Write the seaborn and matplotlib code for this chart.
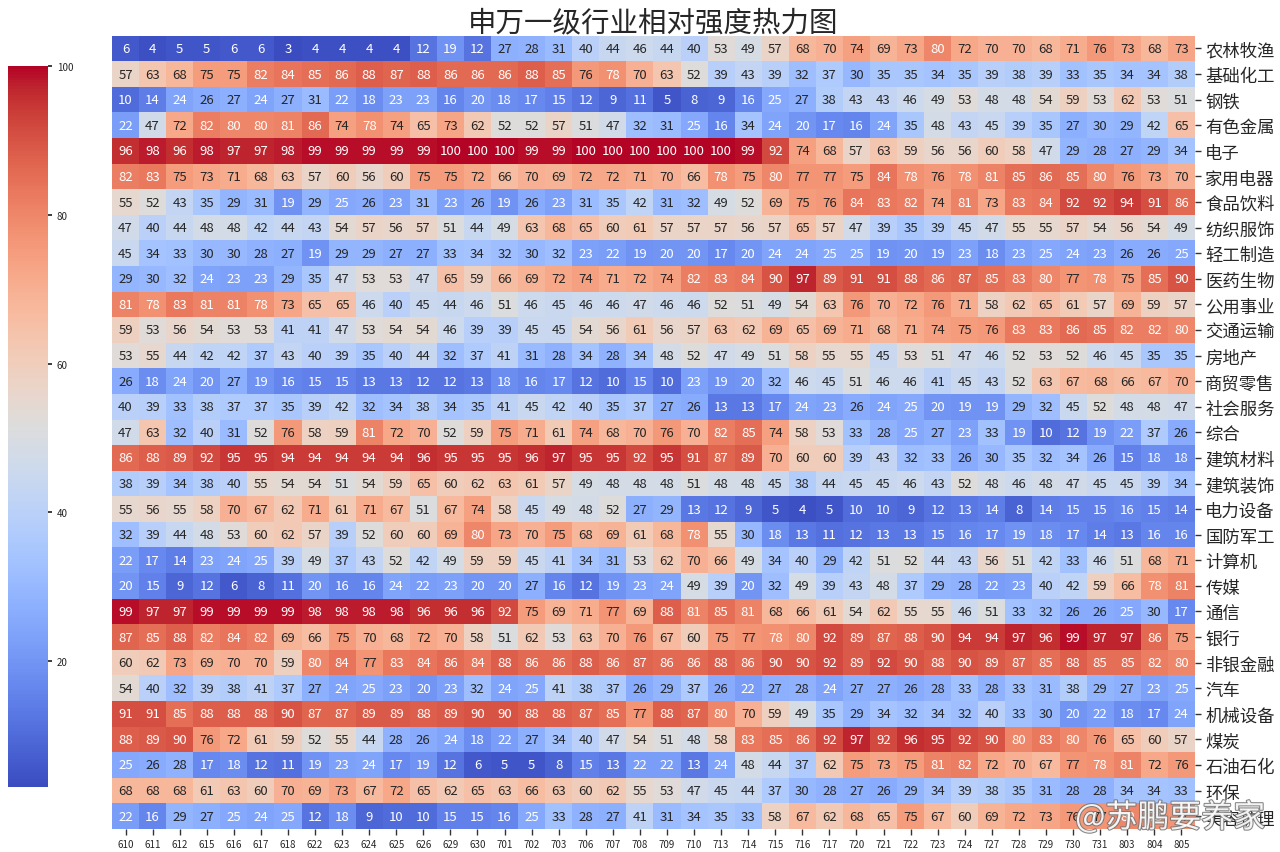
import numpy as np
import pandas as pd
import seaborn as sns
import matplotlib.pyplot as plt
import matplotlib.patheffects as pe

sns.set_theme(style='white')
plt.rcParams['font.family'] = ['Noto Sans CJK SC', 'DejaVu Sans']

dates = ['610', '611', '612', '615', '616', '617', '618', '622', '623', '624',
         '625', '626', '629', '630', '701', '702', '703', '706', '707', '708',
         '709', '710', '713', '714', '715', '716', '717', '720', '721', '722',
         '723', '724', '727', '728', '729', '730', '731', '803', '804', '805']

industries = ['农林牧渔', '基础化工', '钢铁', '有色金属', '电子', '家用电器', '食品饮料',
              '纺织服饰', '轻工制造', '医药生物', '公用事业', '交通运输', '房地产',
              '商贸零售', '社会服务', '综合', '建筑材料', '建筑装饰', '电力设备',
              '国防军工', '计算机', '传媒', '通信', '银行', '非银金融', '汽车',
              '机械设备', '煤炭', '石油石化', '环保', '美容护理']

strength = [
    [6, 4, 5, 5, 6, 6, 3, 4, 4, 4, 4, 12, 19, 12, 27, 28, 31, 40, 44, 46, 44, 40, 53, 49, 57, 68, 70, 74, 69, 73, 80, 72, 70, 70, 68, 71, 76, 73, 68, 73],
    [57, 63, 68, 75, 75, 82, 84, 85, 86, 88, 87, 88, 86, 86, 86, 88, 85, 76, 78, 70, 63, 52, 39, 43, 39, 32, 37, 30, 35, 35, 34, 35, 39, 38, 39, 33, 35, 34, 34, 38],
    [10, 14, 24, 26, 27, 24, 27, 31, 22, 18, 23, 23, 16, 20, 18, 17, 15, 12, 9, 11, 5, 8, 9, 16, 25, 27, 38, 43, 43, 46, 49, 53, 48, 48, 54, 59, 53, 62, 53, 51],
    [22, 47, 72, 82, 80, 80, 81, 86, 74, 78, 74, 65, 73, 62, 52, 52, 57, 51, 47, 32, 31, 25, 16, 34, 24, 20, 17, 16, 24, 35, 48, 43, 45, 39, 35, 27, 30, 29, 42, 65],
    [96, 98, 96, 98, 97, 97, 98, 99, 99, 99, 99, 99, 100, 100, 100, 99, 99, 100, 100, 100, 100, 100, 100, 99, 92, 74, 68, 57, 63, 59, 56, 56, 60, 58, 47, 29, 28, 27, 29, 34],
    [82, 83, 75, 73, 71, 68, 63, 57, 60, 56, 60, 75, 75, 72, 66, 70, 69, 72, 72, 71, 70, 66, 78, 75, 80, 77, 77, 75, 84, 78, 76, 78, 81, 85, 86, 85, 80, 76, 73, 70],
    [55, 52, 43, 35, 29, 31, 19, 29, 25, 26, 23, 31, 23, 26, 19, 26, 23, 31, 35, 42, 31, 32, 49, 52, 69, 75, 76, 84, 83, 82, 74, 81, 73, 83, 84, 92, 92, 94, 91, 86],
    [47, 40, 44, 48, 48, 42, 44, 43, 54, 57, 56, 57, 51, 44, 49, 63, 68, 65, 60, 61, 57, 57, 57, 56, 57, 65, 57, 47, 39, 35, 39, 45, 47, 55, 55, 57, 54, 56, 54, 49],
    [45, 34, 33, 30, 30, 28, 27, 19, 29, 29, 27, 27, 33, 34, 32, 30, 32, 23, 22, 19, 20, 20, 17, 20, 24, 24, 25, 25, 19, 20, 19, 23, 18, 23, 25, 24, 23, 26, 26, 25],
    [29, 30, 32, 24, 23, 23, 29, 35, 47, 53, 53, 47, 65, 59, 66, 69, 72, 74, 71, 72, 74, 82, 83, 84, 90, 97, 89, 91, 91, 88, 86, 87, 85, 83, 80, 77, 78, 75, 85, 90],
    [81, 78, 83, 81, 81, 78, 73, 65, 65, 46, 40, 45, 44, 46, 51, 46, 45, 46, 46, 47, 46, 46, 52, 51, 49, 54, 63, 76, 70, 72, 76, 71, 58, 62, 65, 61, 57, 69, 59, 57],
    [59, 53, 56, 54, 53, 53, 41, 41, 47, 53, 54, 54, 46, 39, 39, 45, 45, 54, 56, 61, 56, 57, 63, 62, 69, 65, 69, 71, 68, 71, 74, 75, 76, 83, 83, 86, 85, 82, 82, 80],
    [53, 55, 44, 42, 42, 37, 43, 40, 39, 35, 40, 44, 32, 37, 41, 31, 28, 34, 28, 34, 48, 52, 47, 49, 51, 58, 55, 55, 45, 53, 51, 47, 46, 52, 53, 52, 46, 45, 35, 35],
    [26, 18, 24, 20, 27, 19, 16, 15, 15, 13, 13, 12, 12, 13, 18, 16, 17, 12, 10, 15, 10, 23, 19, 20, 32, 46, 45, 51, 46, 46, 41, 45, 43, 52, 63, 67, 68, 66, 67, 70],
    [40, 39, 33, 38, 37, 37, 35, 39, 42, 32, 34, 38, 34, 35, 41, 45, 42, 40, 35, 37, 27, 26, 13, 13, 17, 24, 23, 26, 24, 25, 20, 19, 19, 29, 32, 45, 52, 48, 48, 47],
    [47, 63, 32, 40, 31, 52, 76, 58, 59, 81, 72, 70, 52, 59, 75, 71, 61, 74, 68, 70, 76, 70, 82, 85, 74, 58, 53, 33, 28, 25, 27, 23, 33, 19, 10, 12, 19, 22, 37, 26],
    [86, 88, 89, 92, 95, 95, 94, 94, 94, 94, 94, 96, 95, 95, 95, 96, 97, 95, 95, 92, 95, 91, 87, 89, 70, 60, 60, 39, 43, 32, 33, 26, 30, 35, 32, 34, 26, 15, 18, 18],
    [38, 39, 34, 38, 40, 55, 54, 54, 51, 54, 59, 65, 60, 62, 63, 61, 57, 49, 48, 48, 48, 51, 48, 48, 45, 38, 44, 45, 45, 46, 43, 52, 48, 46, 48, 47, 45, 45, 39, 34],
    [55, 56, 55, 58, 70, 67, 62, 71, 61, 71, 67, 51, 67, 74, 58, 45, 49, 48, 52, 27, 29, 13, 12, 9, 5, 4, 5, 10, 10, 9, 12, 13, 14, 8, 14, 15, 15, 16, 15, 14],
    [32, 39, 44, 48, 53, 60, 62, 57, 39, 52, 60, 60, 69, 80, 73, 70, 75, 68, 69, 61, 68, 78, 55, 30, 18, 13, 11, 12, 13, 13, 15, 16, 17, 19, 18, 17, 14, 13, 16, 16],
    [22, 17, 14, 23, 24, 25, 39, 49, 37, 43, 52, 42, 49, 59, 59, 45, 41, 34, 31, 53, 62, 70, 66, 49, 34, 40, 29, 42, 51, 52, 44, 43, 56, 51, 42, 33, 46, 51, 68, 71],
    [20, 15, 9, 12, 6, 8, 11, 20, 16, 16, 24, 22, 23, 20, 20, 27, 16, 12, 19, 23, 24, 49, 39, 20, 32, 49, 39, 43, 48, 37, 29, 28, 22, 23, 40, 42, 59, 66, 78, 81],
    [99, 97, 97, 99, 99, 99, 99, 98, 98, 98, 98, 96, 96, 96, 92, 75, 69, 71, 77, 69, 88, 81, 85, 81, 68, 66, 61, 54, 62, 55, 55, 46, 51, 33, 32, 26, 26, 25, 30, 17],
    [87, 85, 88, 82, 84, 82, 69, 66, 75, 70, 68, 72, 70, 58, 51, 62, 53, 63, 70, 76, 67, 60, 75, 77, 78, 80, 92, 89, 87, 88, 90, 94, 94, 97, 96, 99, 97, 97, 86, 75],
    [60, 62, 73, 69, 70, 70, 59, 80, 84, 77, 83, 84, 86, 84, 88, 86, 86, 88, 86, 87, 86, 86, 88, 86, 90, 90, 92, 89, 92, 90, 88, 90, 89, 87, 85, 88, 85, 85, 82, 80],
    [54, 40, 32, 39, 38, 41, 37, 27, 24, 25, 23, 20, 23, 32, 24, 25, 41, 38, 37, 26, 29, 37, 26, 22, 27, 28, 24, 27, 27, 26, 28, 33, 28, 33, 31, 38, 29, 27, 23, 25],
    [91, 91, 85, 88, 88, 88, 90, 87, 87, 89, 89, 88, 89, 90, 90, 88, 88, 87, 85, 77, 88, 87, 80, 70, 59, 49, 35, 29, 34, 32, 34, 32, 40, 33, 30, 20, 22, 18, 17, 24],
    [88, 89, 90, 76, 72, 61, 59, 52, 55, 44, 28, 26, 24, 18, 22, 27, 34, 40, 47, 54, 51, 48, 58, 83, 85, 86, 92, 97, 92, 96, 95, 92, 90, 80, 83, 80, 76, 65, 60, 57],
    [25, 26, 28, 17, 18, 12, 11, 19, 23, 24, 17, 19, 12, 6, 5, 5, 8, 15, 13, 22, 22, 13, 24, 48, 44, 37, 62, 75, 73, 75, 81, 82, 72, 70, 67, 77, 78, 81, 72, 76],
    [68, 68, 68, 61, 63, 60, 70, 69, 73, 67, 72, 65, 62, 65, 63, 66, 63, 60, 62, 55, 53, 47, 45, 44, 37, 30, 28, 27, 26, 29, 34, 39, 38, 35, 31, 28, 28, 34, 34, 33],
    [22, 16, 29, 27, 25, 24, 25, 12, 18, 9, 10, 10, 15, 15, 16, 25, 33, 28, 27, 41, 31, 34, 35, 33, 58, 67, 62, 68, 65, 75, 67, 60, 69, 72, 73, 76, 77, 80, 78, 77],
]


def main():
    df = pd.DataFrame(strength, index=industries, columns=dates)

    fig = plt.figure(figsize=(12.8, 8.53), dpi=100)
    ax = fig.add_axes([0.0875, 0.027, 0.846, 0.93])
    cax = fig.add_axes([0.0063, 0.076, 0.031, 0.845])

    sns.heatmap(df, ax=ax, cbar_ax=cax, cmap='coolwarm', annot=True, fmt='d',
                annot_kws={'fontsize': 9.5})

    ax.yaxis.tick_right()
    ax.tick_params(axis='y', labelsize=12.5, rotation=0, length=4, width=1,
                   left=False, right=True, color='#333333')
    ax.tick_params(axis='x', labelsize=7, rotation=0, length=4, width=1,
                   bottom=True, color='#333333')
    ax.set_xlabel('')
    ax.set_ylabel('')
    ax.set_title('申万一级行业相对强度热力图', fontsize=20.5, pad=4)

    cax.tick_params(labelsize=7, length=3)
    cax.set_yticks([20, 40, 60, 80, 100])

    # weibo watermark in the bottom right corner
    fig.text(0.84, 0.04, '@苏鹏要养家', fontsize=23, color='white', alpha=0.9,
             ha='left', va='center',
             path_effects=[pe.withStroke(linewidth=1.5, foreground='#777777')])

    plt.savefig('out.png', dpi=100)
    plt.close()


if __name__ == '__main__':
    main()
